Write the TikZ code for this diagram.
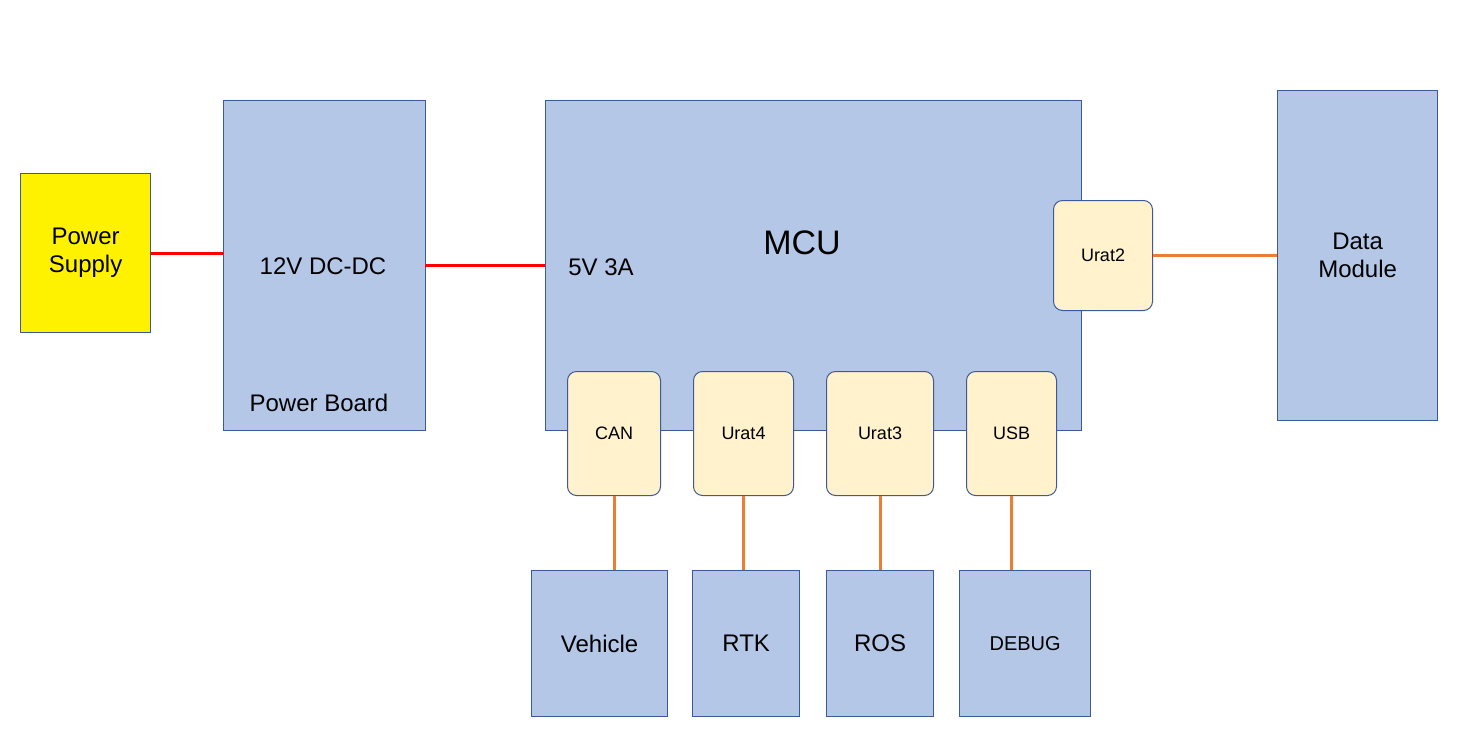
\documentclass[tikz,border=0pt]{standalone}
\usepackage{fontspec}
\setmainfont{Liberation Sans}
\begin{document}
\begin{tikzpicture}[x=1pt,y=-1pt,
  blk/.style={draw=bcol,fill=bfill,line width=1.3pt,inner sep=0pt,anchor=north west,font=\fontsize{24}{28}\selectfont,align=center},
  port/.style={draw=bcol,fill=pfill,line width=1pt,rounded corners=9pt,inner sep=0pt,anchor=north west,font=\fontsize{18}{22}\selectfont},
  red/.style={draw=red,line width=3pt},
  org/.style={draw=ocol,line width=3pt}]
\definecolor{bcol}{HTML}{3C5A99}
\definecolor{bfill}{HTML}{B4C7E7}
\definecolor{pfill}{HTML}{FFF2CC}
\definecolor{ocol}{HTML}{ED7D31}
\useasboundingbox (0,0) rectangle (1475,745);
\node[blk,fill=yellow,minimum width=130pt,minimum height=159pt] (ps) at (20,173) {Power\\Supply};
\node[blk,minimum width=202pt,minimum height=330pt] (pb) at (223,100) {};
\node[font=\fontsize{24}{28}\selectfont] (dcdc) at (323,266) {12V DC-DC};
\node[font=\fontsize{24}{28}\selectfont] (pbl) at (319,403) {Power Board};
\node[blk,minimum width=536pt,minimum height=330pt] (mcu) at (545,100) {};
\node[font=\fontsize{34}{40}\selectfont] (mcul) at (802,243) {MCU};
\node[font=\fontsize{24}{28}\selectfont] (v5) at (601,267) {5V 3A};
\node[blk,minimum width=160pt,minimum height=330pt] (dm) at (1277,90) {Data\\Module};
\node[port,minimum width=99pt,minimum height=110pt] (u2) at (1053,200) {Urat2};
\node[port,minimum width=93pt,minimum height=124pt] (can) at (567,371) {CAN};
\node[port,minimum width=100pt,minimum height=124pt] (u4) at (693,371) {Urat4};
\node[port,minimum width=107pt,minimum height=124pt] (u3) at (826,371) {Urat3};
\node[port,minimum width=90pt,minimum height=124pt] (usb) at (966,371) {USB};
\node[blk,minimum width=136pt,minimum height=146pt] (veh) at (531,570) {Vehicle};
\node[blk,minimum width=107pt,minimum height=146pt] (rtk) at (692,570) {RTK};
\node[blk,minimum width=107pt,minimum height=146pt] (ros) at (826,570) {ROS};
\node[blk,minimum width=131pt,minimum height=146pt,font=\fontsize{20}{24}\selectfont] (dbg) at (959,570) {DEBUG};
\draw[red] (ps.east) -- (ps.east -| pb.west);
\coordinate (r1) at (425,265);
\draw[red] (r1) -- (r1 -| mcu.west);
\draw[org] (u2.east) -- (u2.east -| dm.west);
\draw[org] (can.south) -- (can.south |- veh.north);
\draw[org] (u4.south) -- (u4.south |- rtk.north);
\draw[org] (u3.south) -- (u3.south |- ros.north);
\draw[org] (usb.south) -- (usb.south |- dbg.north);
\end{tikzpicture}
\end{document}
